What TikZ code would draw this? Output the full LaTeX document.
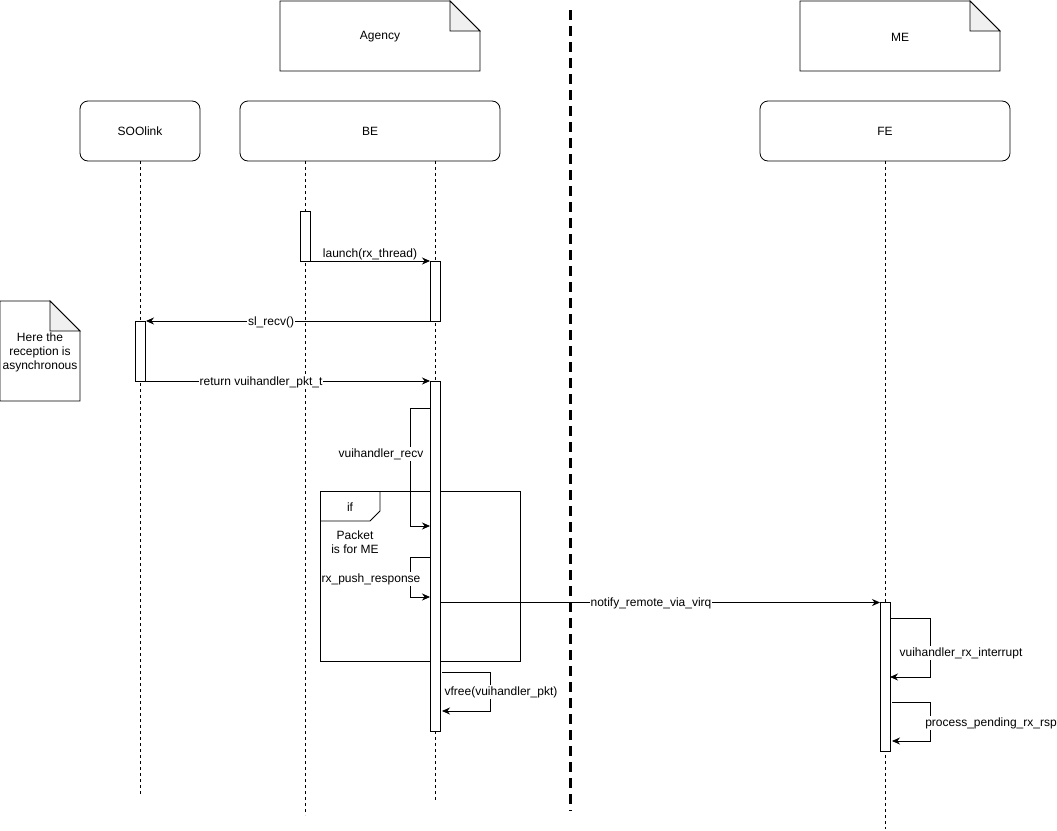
\documentclass[tikz,border=0pt]{standalone}
\usepackage{fontspec}
\setmainfont{Liberation Sans}
\usetikzlibrary{arrows.meta}
\begin{document}
\begin{tikzpicture}[x=1pt,y=-1pt,
  every node/.style={font=\fontsize{12}{14}\selectfont, inner sep=1pt},
  lifebox/.style={draw, rounded corners=8pt, minimum height=60pt, line width=0.8pt},
  lifeline/.style={draw, dash pattern=on 3pt off 3pt, line width=0.8pt},
  actbox/.style={draw, fill=white, line width=0.8pt, minimum width=10pt, inner sep=0pt},
  msg/.style={draw, line width=0.8pt, -{Stealth[length=8pt,width=7pt]}},
  lbl/.style={fill=white, inner sep=1pt},
  notebox/.style={draw, line width=0.8pt, fill=white},
  foldc/.style={draw, line width=0.8pt, fill=black!6},
  separator/.style={draw, line width=3pt, dash pattern=on 10pt off 6pt}
]
\useasboundingbox (0,0) rectangle (1057,830);

% notes at top
\draw[notebox] (280,1) -- (450,1) -- (480,31) -- (480,71) -- (280,71) -- cycle;
\draw[foldc] (450,1) -- (450,31) -- (480,31) -- cycle;
\node (agency) at (380,37) {Agency};
\draw[notebox] (800,1) -- (970,1) -- (1000,31) -- (1000,71) -- (800,71) -- cycle;
\draw[foldc] (970,1) -- (970,31) -- (1000,31) -- cycle;
\node (me) at (900,37) {ME};

% note left
\draw[notebox] (0,301) -- (50,301) -- (80,331) -- (80,401) -- (0,401) -- cycle;
\draw[foldc] (50,301) -- (50,331) -- (80,331) -- cycle;
\node[align=center] (async) at (40,352) {Here the\\reception is\\asynchronous};

% separator
\coordinate (septop) at (570,10);
\coordinate (sepbot) at (570,811);
\draw[separator] (septop) -- (sepbot);

% participant boxes
\node[lifebox, minimum width=120pt] (soolink) at (140,131) {SOOlink};
\node[lifebox, minimum width=260pt] (be) at (370,131) {BE};
\node[lifebox, minimum width=250pt] (fe) at (885,131) {FE};

% lifelines
\coordinate (l1top) at (140,161); \coordinate (l1bot) at (140,796);
\coordinate (l2top) at (305,161); \coordinate (l2bot) at (305,815);
\coordinate (l3top) at (435,161); \coordinate (l3bot) at (435,801);
\coordinate (l4top) at (885,161); \coordinate (l4bot) at (885,829);
\draw[lifeline] (l1top) -- (l1bot);
\draw[lifeline] (l2top) -- (l2bot);
\draw[lifeline] (l3top) -- (l3bot);
\draw[lifeline] (l4top) -- (l4bot);

% if frame
\draw[line width=0.8pt] (320,491) rectangle (520,661);
\draw[line width=0.8pt] (320,521) -- (370,521) -- (380,511) -- (380,491);
\node (iflbl) at (350,507) {if};
\node[align=center] (cond) at (355,542) {Packet\\is for ME};

% activations
\node[actbox, minimum height=50pt] (a0) at (305,236) {};
\node[actbox, minimum height=60pt] (a1) at (435,291) {};
\node[actbox, minimum height=60pt] (a2) at (140,351) {};
\node[actbox, minimum height=350pt] (a3) at (435,556) {};
\node[actbox, minimum height=149pt] (a4) at (885,676.5) {};

% messages
\coordinate (m1s) at (310,261); \coordinate (m1e) at (430,261);
\draw[msg] (m1s) -- node[above=0pt, pos=0.5] (m1l) {launch(rx\_thread)} (m1e);

\coordinate (m2s) at (440,321); \coordinate (m2e) at (146,321);
\draw[msg] (m2s) -- (m2e);
\node[lbl] (m2l) at (271,322) {sl\_recv()};

\coordinate (m3s) at (145,381); \coordinate (m3e) at (430,381);
\draw[msg] (m3s) -- (m3e);
\node[lbl] (m3l) at (261,382) {return vuihandler\_pkt\_t};

% self calls
\coordinate (s1a) at (430,408); \coordinate (s1b) at (410,408);
\coordinate (s1c) at (410,526); \coordinate (s1d) at (430,526);
\draw[msg] (s1a) -- (s1b) -- (s1c) -- (s1d);
\node[lbl] (s1l) at (381,454) {vuihandler\_recv};

\coordinate (s2a) at (430,557); \coordinate (s2b) at (410,557);
\coordinate (s2c) at (410,597); \coordinate (s2d) at (430,597);
\draw[msg] (s2a) -- (s2b) -- (s2c) -- (s2d);
\node[lbl] (s2l) at (371,579) {rx\_push\_response};

\coordinate (m4s) at (440,602.5); \coordinate (m4e) at (880,602.5);
\draw[msg] (m4s) -- (m4e);
\node[lbl] (m4l) at (651,603) {notify\_remote\_via\_virq};

\coordinate (s3a) at (890,618); \coordinate (s3b) at (930,618);
\coordinate (s3c) at (930,677); \coordinate (s3d) at (890,677);
\draw[msg] (s3a) -- (s3b) -- (s3c) -- (s3d);
\node[lbl] (s3l) at (961,653) {vuihandler\_rx\_interrupt};

\coordinate (s4a) at (892,702); \coordinate (s4b) at (930,702);
\coordinate (s4c) at (930,741); \coordinate (s4d) at (892,741);
\draw[msg] (s4a) -- (s4b) -- (s4c) -- (s4d);
\node[lbl] (s4l) at (991,723) {process\_pending\_rx\_rsp};

\coordinate (s5a) at (442,672); \coordinate (s5b) at (490,672);
\coordinate (s5c) at (490,711); \coordinate (s5d) at (442,711);
\draw[msg] (s5a) -- (s5b) -- (s5c) -- (s5d);
\node[lbl] (s5l) at (501,692) {vfree(vuihandler\_pkt)};
\end{tikzpicture}
\end{document}
